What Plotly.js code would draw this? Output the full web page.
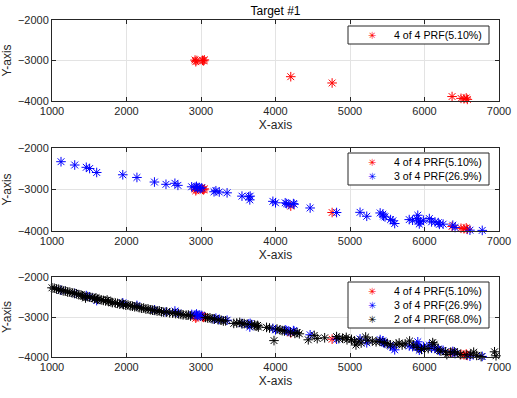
<!DOCTYPE html>
<html>
<head>
<meta charset="utf-8">
<script src="https://cdn.plot.ly/plotly-3.0.1.min.js"></script>
<style>html,body{margin:0;padding:0;background:#fff;}#chart{width:517px;height:398px;}</style>
</head>
<body>
<div id="chart"></div>
<script>
// ---- data ----
const seriesNames = ["4 of 4 PRF(5.10%)", "3 of 4 PRF(26.9%)", "2 of 4 PRF(68.0%)"];
const xTickVals = [1000, 2000, 3000, 4000, 5000, 6000, 7000];
const yTickVals = [-4000, -3000, -2000];

const redX = [2920, 2930, 2945, 3020, 3035, 3045, 4205, 4760, 6370, 6490, 6530, 6560, 6575];
const redY = [-2990, -3030, -3000, -2995, -3010, -2985, -3400, -3555, -3890, -3935, -3945, -3925, -3960];

const blueX = [1121, 1305, 1460, 1505, 1600, 1950, 2140, 2375, 2530, 2650, 2690, 2875, 2920, 2940, 2955, 2975, 2990, 3010,
  3175, 3200, 3245, 3350, 3550, 3640, 3660, 3655, 3965, 4000, 4130, 4150, 4180, 4240, 4250, 4465, 4820, 5135, 5225,
  5405, 5440, 5450, 5470, 5545, 5575, 5600, 5795, 5840, 5895, 5910, 5920, 5930, 5950, 5985, 6065, 6095, 6140, 6185,
  6200, 6250, 6380, 6410, 6610, 6775];
const blueY = [-2330, -2410, -2465, -2495, -2590, -2645, -2710, -2820, -2875, -2850, -2900, -2935, -2945, -2925, -2965, -2950, -2980, -2960,
  -3055, -3030, -3060, -3080, -3160, -3175, -3160, -3250, -3285, -3320, -3320, -3340, -3360, -3340, -3355, -3445, -3555, -3550, -3645,
  -3565, -3595, -3640, -3660, -3725, -3755, -3820, -3725, -3740, -3700, -3620, -3760, -3830, -3780, -3740, -3700, -3780, -3780, -3800,
  -3840, -3835, -3860, -3915, -3980, -3985];

const blackX = [1000, 1030, 1060, 1090, 1120, 1150, 1180, 1210, 1240, 1270, 1300, 1330, 1360, 1390, 1410, 1430, 1450, 1480, 1510, 1540,
  1570, 1590, 1610, 1630, 1660, 1690, 1720, 1740, 1760, 1790, 1810, 1850, 1880, 1910, 1940, 1960, 1990, 2020, 2050, 2080,
  2110, 2140, 2170, 2200, 2230, 2260, 2290, 2320, 2350, 2380, 2410, 2440, 2470, 2500, 2540, 2580, 2620, 2660, 2700, 2730,
  2760, 2800, 2830, 2860, 3060, 3090, 3120, 3150, 3180, 3230, 3270, 3300, 3330, 3440, 3480, 3520, 3550, 3580, 3620, 3680,
  3720, 3740, 3760, 3770, 3880, 3920, 3980, 4020, 4060, 4090, 4120, 4200, 4260, 4290, 4320, 4440, 4520, 4560, 4660, 4820,
  4850, 4900, 4950, 4960, 5020, 5060, 5080, 5120, 5150, 5210, 5240, 5300, 5350, 5400, 5460, 5500, 5540, 5620, 5660, 5700,
  5740, 5800, 5850, 5900, 5960, 6000, 6050, 6110, 6130, 6180, 6220, 6280, 6300, 6350, 6400, 6440, 6480, 6560, 6620, 6660,
  6700, 6760, 6940, 6960];
const blackY = [-2270, -2280, -2300, -2305, -2330, -2345, -2350, -2375, -2380, -2395, -2410, -2420, -2440, -2450, -2470, -2480, -2525, -2490, -2505, -2515,
  -2540, -2520, -2555, -2560, -2570, -2585, -2600, -2575, -2615, -2620, -2640, -2650, -2660, -2680, -2660, -2690, -2705, -2700, -2720, -2730,
  -2745, -2740, -2765, -2780, -2775, -2800, -2800, -2820, -2830, -2835, -2850, -2845, -2870, -2880, -2875, -2895, -2905, -2915, -2920, -2935,
  -2945, -2955, -2950, -2975, -3010, -3025, -3020, -3045, -3050, -3070, -3080, -3100, -3095, -3160, -3150, -3135, -3170, -3165, -3180, -3190,
  -3200, -3230, -3210, -3250, -3260, -3275, -3590, -3300, -3320, -3340, -3350, -3380, -3410, -3390, -3420, -3570, -3460, -3540, -3520, -3490,
  -3540, -3530, -3510, -3570, -3560, -3620, -3700, -3600, -3650, -3500, -3580, -3600, -3620, -3610, -3640, -3660, -3700, -3680, -3650, -3700,
  -3670, -3600, -3700, -3760, -3810, -3780, -3790, -3640, -3680, -3820, -3850, -3870, -3940, -3880, -3870, -3900, -3940, -3950, -3930, -3880,
  -3960, -3990, -3870, -3970];

// ---- styling ----
const FONT = "Liberation Sans, Arial, Helvetica, sans-serif";
const INK = "#262626";
const W = 517, H = 398;
const xDom = [52 / W, 499 / W];
const panels = [[20, 101], [148, 231], [277, 357]]; // top/bottom pixel rows of each plot area
const colors = ["#ff0000", "#0000ff", "#000000"];

function mk(x, y, idx, panel) {
  const ax = panel === 1 ? "" : String(panel);
  return {
    type: "scatter", mode: "markers", x: x, y: y,
    name: seriesNames[idx], showlegend: false,
    xaxis: "x" + ax, yaxis: "y" + ax,
    marker: {symbol: "asterisk-open", size: 8, color: colors[idx], line: {color: colors[idx], width: 1}},
    cliponaxis: false,
    hoverinfo: "skip"
  };
}

const traces = [
  mk(redX, redY, 0, 1),
  mk(redX, redY, 0, 2), mk(blueX, blueY, 1, 2),
  mk(redX, redY, 0, 3), mk(blueX, blueY, 1, 3), mk(blackX, blackY, 2, 3)
];

function xa(anchor) {
  return {
    domain: xDom, anchor: anchor, range: [1000, 7000], tickvals: xTickVals,
    showgrid: true, gridcolor: "#e3e3e3", zeroline: false,
    showline: true, linecolor: INK, linewidth: 1, mirror: "ticks",
    ticks: "inside", ticklen: 4, tickcolor: INK,
    tickfont: {family: FONT, size: 11, color: INK},
    title: {text: "X-axis", font: {family: FONT, size: 12, color: INK}, standoff: 4},
    fixedrange: true
  };
}
function ya(anchor, p) {
  const d = [1 - panels[p][1] / H, 1 - panels[p][0] / H];
  return {
    domain: d, anchor: anchor, range: [-4000, -2000], tickvals: yTickVals,
    showgrid: true, gridcolor: "#e3e3e3", zeroline: false,
    showline: true, linecolor: INK, linewidth: 1, mirror: "ticks",
    ticks: "inside", ticklen: 4, tickcolor: INK,
    tickfont: {family: FONT, size: 11, color: INK},
    title: {text: "Y-axis", font: {family: FONT, size: 12, color: INK}, standoff: 6},
    fixedrange: true
  };
}

// ---- legend boxes (one per panel), built from the series names/colours ----
const legendTops = [26, 153, 282];
const legendCounts = [1, 2, 3];
const boxL = 348, boxR = 489, rowH = 14, symX = 372, txtX = 392;
const shapes = [], annotations = [];
legendTops.forEach((top, p) => {
  const n = legendCounts[p];
  const h = rowH * n + 4;
  shapes.push({type: "rect", xref: "paper", yref: "paper", layer: "above",
    x0: boxL / W, x1: boxR / W, y0: 1 - (top + h) / H, y1: 1 - top / H,
    line: {color: INK, width: 1}, fillcolor: "#ffffff"});
  for (let i = 0; i < n; i++) {
    const cy = top + 9 + rowH * i;
    annotations.push({xref: "paper", yref: "paper", x: symX / W, y: 1 - cy / H,
      xanchor: "center", yanchor: "middle", showarrow: false,
      text: "\u2733", font: {family: "DejaVu Sans", size: 10, color: colors[i]}});
    annotations.push({xref: "paper", yref: "paper", x: txtX / W, y: 1 - cy / H,
      xanchor: "left", yanchor: "middle", showarrow: false,
      text: seriesNames[i], font: {family: FONT, size: 10.6, color: "#000"}});
  }
});

const layout = {
  width: W, height: H,
  margin: {l: 0, r: 0, t: 0, b: 0},
  paper_bgcolor: "#ffffff", plot_bgcolor: "#ffffff",
  font: {family: FONT, color: INK},
  title: {text: "Target #1", font: {family: FONT, size: 12, color: "#000"},
          xref: "paper", x: 275.5 / W, xanchor: "center", yref: "paper", y: 1 - 11 / H, yanchor: "middle"},
  xaxis: xa("y"), yaxis: ya("x", 0),
  xaxis2: xa("y2"), yaxis2: ya("x2", 1),
  xaxis3: xa("y3"), yaxis3: ya("x3", 2),
  shapes: shapes, annotations: annotations,
  showlegend: false
};

Plotly.newPlot("chart", traces, layout, {displayModeBar: false, staticPlot: true});
</script>
</body>
</html>
